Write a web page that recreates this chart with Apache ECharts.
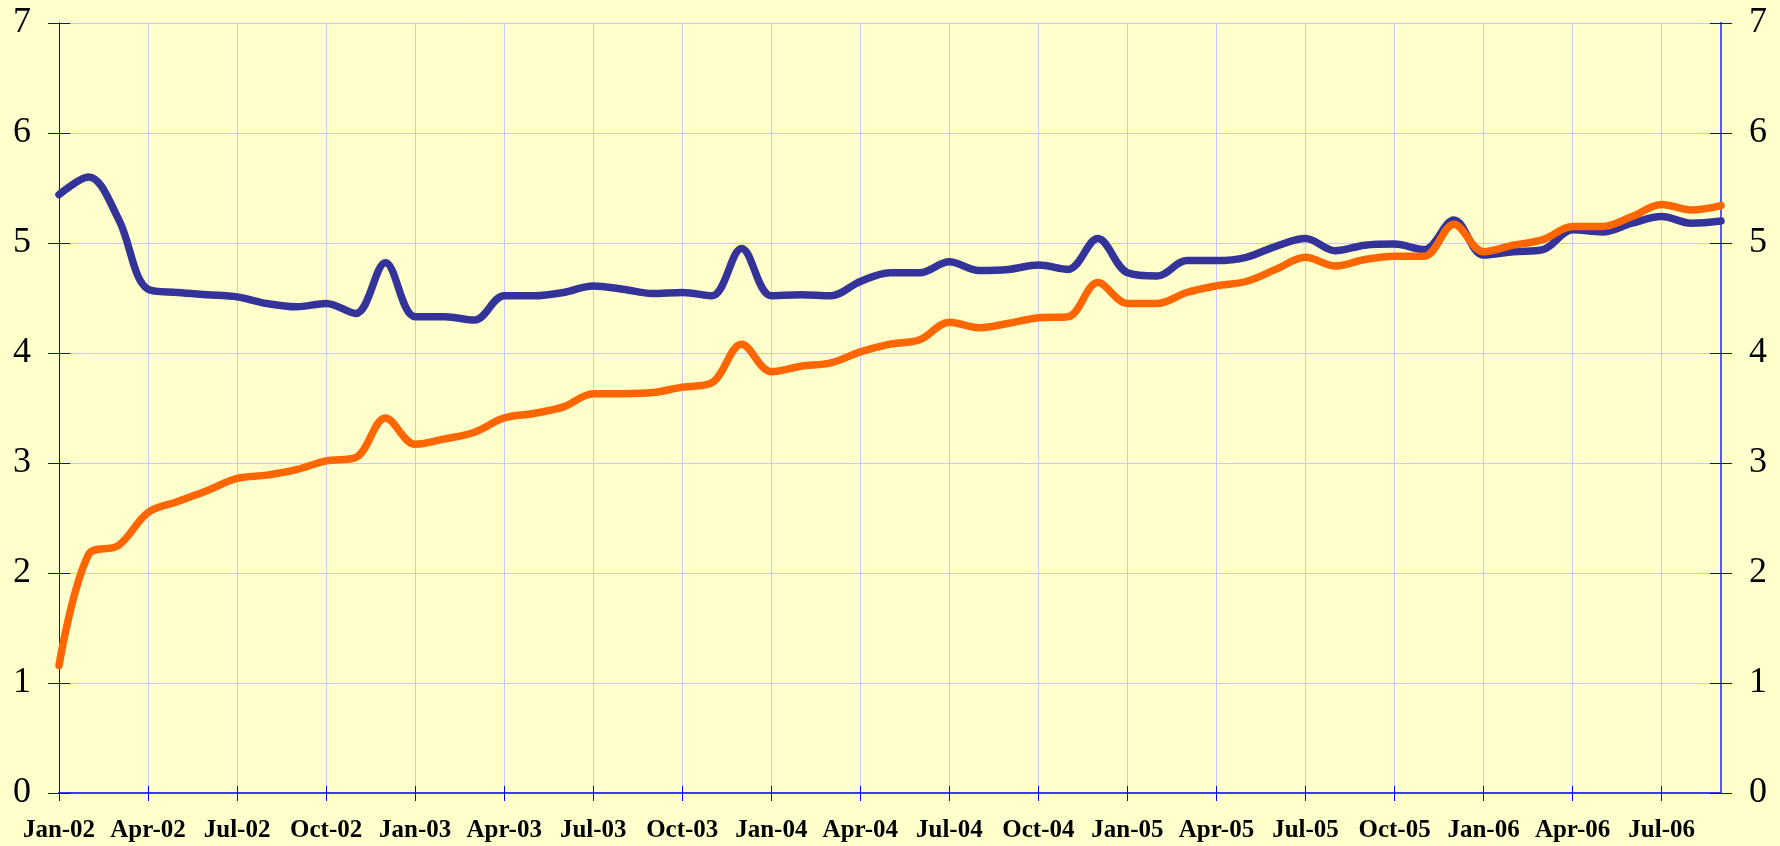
<!DOCTYPE html>
<html>
<head>
<meta charset="utf-8">
<script src="https://cdn.jsdelivr.net/npm/echarts@6/dist/echarts.min.js"></script>
<style>
html,body{margin:0;padding:0;background:#FFFFCC;}
#c{width:1780px;height:846px;}
</style>
</head>
<body>
<div id="c"></div>
<script>
const months = ['Jan','Feb','Mar','Apr','May','Jun','Jul','Aug','Sep','Oct','Nov','Dec'];
const categories = [];
for (let y = 2; y <= 6; y++) {
  for (let m = 0; m < 12; m++) {
    if (y === 6 && m > 8) break;
    categories.push(months[m] + '-0' + y);
  }
}
const blueSeries = [
  5.44, 5.60, 5.22, 4.58, 4.55, 4.53, 4.51, 4.45, 4.42, 4.45, 4.36, 4.82,
  4.33, 4.33, 4.30, 4.52, 4.52, 4.55, 4.61, 4.58, 4.54, 4.55, 4.52, 4.95,
  4.52, 4.53, 4.52, 4.65, 4.73, 4.73, 4.83, 4.75, 4.76, 4.80, 4.76, 5.04,
  4.73, 4.70, 4.84, 4.84, 4.87, 4.97, 5.04, 4.93, 4.98, 4.99, 4.94, 5.21,
  4.89, 4.92, 4.94, 5.12, 5.10, 5.18, 5.24, 5.18, 5.20
];
const orangeSeries = [
  1.16, 2.17, 2.25, 2.55, 2.65, 2.75, 2.86, 2.89, 2.94, 3.02, 3.05, 3.41,
  3.17, 3.22, 3.28, 3.41, 3.45, 3.51, 3.63, 3.63, 3.64, 3.69, 3.73, 4.08,
  3.83, 3.88, 3.91, 4.01, 4.08, 4.12, 4.28, 4.23, 4.27, 4.32, 4.33, 4.64,
  4.45, 4.45, 4.55, 4.61, 4.65, 4.76, 4.87, 4.79, 4.85, 4.88, 4.88, 5.17,
  4.92, 4.98, 5.03, 5.15, 5.15, 5.24, 5.35, 5.30, 5.34
];
const yTicks = { min: 0, max: 7, interval: 1 };

const chart = echarts.init(document.getElementById('c'), null, {renderer: 'canvas'});
const serif = 'Liberation Serif, Times New Roman, serif';
const gridColor = '#c8c8f6';
function yAx(pos, inside, labels, lineColor, lineWidth) {
  return {
    type: 'value', position: pos, min: yTicks.min, max: yTicks.max, interval: yTicks.interval,
    axisLine: {show: true, lineStyle: {color: lineColor, width: lineWidth}},
    axisTick: {show: true, inside: inside, length: 11, lineStyle: {color: '#0000ff', width: 1}},
    axisLabel: {show: labels, color: '#000', fontFamily: serif, fontSize: 36, margin: 28},
    splitLine: {show: labels && pos === 'left', lineStyle: {color: gridColor, width: 1}}
  };
}
function xAx(inside, labels) {
  return {
    type: 'category', data: categories, boundaryGap: false, position: 'bottom',
    axisLine: {show: true, onZero: false, lineStyle: {color: '#3a3aff', width: 2}},
    axisTick: {show: true, inside: inside, length: inside ? 7 : 8, interval: 2, lineStyle: {color: '#0000ff', width: 1}},
    axisLabel: {show: labels, interval: 2, color: '#000', fontFamily: serif, fontWeight: 'bold', fontSize: 25, margin: 25,
      formatter: v => v},
    splitLine: {show: labels, interval: 2, lineStyle: {color: gridColor, width: 1}}
  };
}
chart.setOption({
  backgroundColor: '#FFFFCC',
  animation: false,
  grid: {left: 59, right: 59, top: 23, bottom: 53, containLabel: false},
  xAxis: [xAx(false, true), xAx(true, false)],
  yAxis: [
    yAx('left', false, true, '#0000ff', 1),
    yAx('right', false, true, '#5a5aee', 2),
    yAx('left', true, false, '#0000ff', 1),
    yAx('right', true, false, '#5a5aee', 2)
  ],
  series: [
    {type: 'line', name: 'blue', data: blueSeries, xAxisIndex: 0, yAxisIndex: 0, smooth: 0.35,
      showSymbol: false, symbol: 'none', lineStyle: {color: '#333399', width: 7.5, cap: 'round'}, itemStyle: {color: '#333399'}},
    {type: 'line', name: 'orange', data: orangeSeries, xAxisIndex: 0, yAxisIndex: 0, smooth: 0.35,
      showSymbol: false, symbol: 'none', lineStyle: {color: '#ff6600', width: 7.5, cap: 'round'}, itemStyle: {color: '#ff6600'}}
  ]
});
</script>
</body>
</html>
